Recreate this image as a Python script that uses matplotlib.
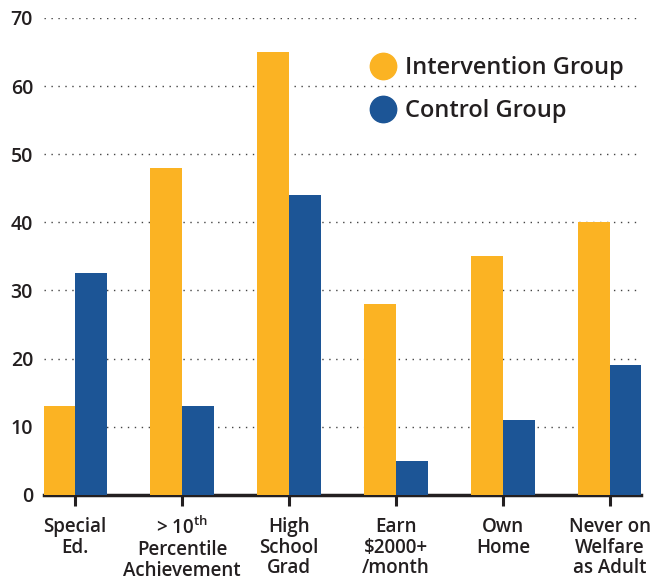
import matplotlib.pyplot as plt
import numpy as np
from matplotlib.lines import Line2D

categories = ["Special\nEd.", "> 10$^{\\mathregular{th}}$\nPercentile\nAchievement", "High\nSchool\nGrad",
              "Earn\n\\$2000+\n/month", "Own\nHome", "Never on\nWelfare\nas Adult"]
intervention = [13, 48, 65, 28, 35, 40]
control = [32.5, 13, 44, 5, 11, 19]
yticks = [0, 10, 20, 30, 40, 50, 60, 70]

orange = "#FBB323"
blue = "#1C5596"
dark = "#231F20"

plt.rcParams['font.family'] = ['Open Sans', 'DejaVu Sans']
plt.rcParams['font.weight'] = 'semibold'
plt.rcParams['mathtext.default'] = 'regular'

fig = plt.figure(figsize=(6.69, 5.8), dpi=100)
ax = fig.add_axes([0.066, 0.147, 0.892, 0.822])

x = np.arange(len(categories))
w = 0.3
ax.bar(x - w / 2, intervention, w, color=orange, zorder=3)
ax.bar(x + w / 2, control, w, color=blue, zorder=3)

ax.set_xlim(-0.29, 5.29)
ax.set_ylim(0, 70)
ax.set_yticks(yticks)
ax.set_yticklabels([str(v) for v in yticks], fontsize=14, color=dark)
ax.set_xticks(x)
ax.set_xticklabels(categories, fontsize=13.5, color=dark, linespacing=1.05)

for s in ["top", "right", "left"]:
    ax.spines[s].set_visible(False)
ax.spines["bottom"].set_linewidth(2.5)
ax.spines["bottom"].set_color(dark)
ax.tick_params(axis="y", length=0, pad=8)
ax.tick_params(axis="x", length=8, width=2.2, color=dark, pad=8)

ax.yaxis.grid(True, linestyle=(0, (1, 4)), linewidth=1, color="#444444", zorder=0)
ax.set_axisbelow(True)

handles = [Line2D([], [], marker="o", linestyle="none", markersize=19, color=orange),
           Line2D([], [], marker="o", linestyle="none", markersize=19, color=blue)]
ax.legend(handles, ["Intervention Group", "Control Group"], loc="upper left",
          bbox_to_anchor=(0.513, 0.94), frameon=False, fontsize=17, handletextpad=-0.1,
          labelspacing=0.8, labelcolor=dark, borderaxespad=0)

fig.savefig("out.png", dpi=100)
